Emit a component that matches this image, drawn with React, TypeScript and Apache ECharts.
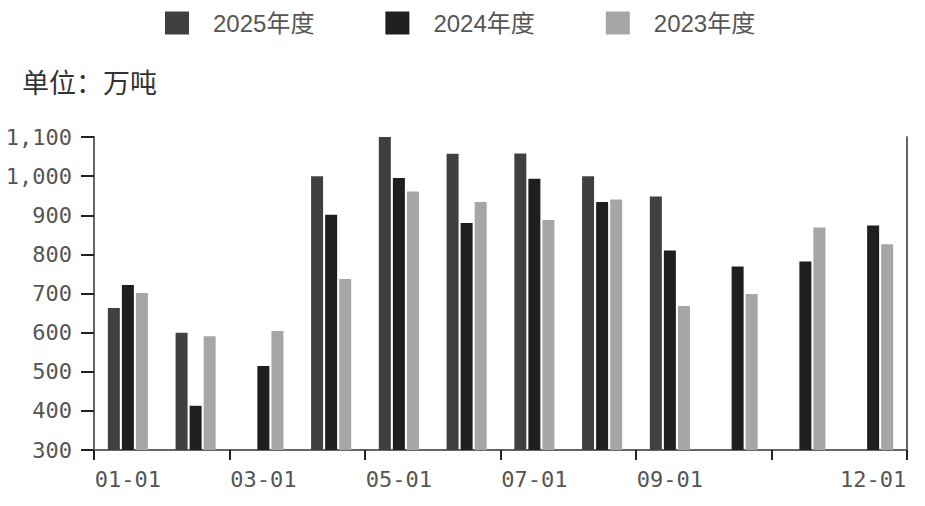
import { useEffect, useRef } from 'react';
import * as echarts from 'echarts';

// 月份类目
const months = [
  '01-01', '02-01', '03-01', '04-01', '05-01', '06-01',
  '07-01', '08-01', '09-01', '10-01', '11-01', '12-01',
];

// 各年度数据（万吨）
const data2025: (number | null)[] = [663, 600, null, 1000, 1100, 1057, 1058, 1000, 948, null, null, null];
const data2024: (number | null)[] = [722, 413, 515, 901, 995, 880, 993, 934, 810, 769, 782, 874];
const data2023: (number | null)[] = [701, 591, 604, 737, 961, 934, 888, 940, 668, 699, 869, 826];

const seriesNames = ['2025年度', '2024年度', '2023年度'];
const seriesColors = ['#404040', '#1f1f1f', '#a6a6a6'];

// 显示的 x 轴标签
const shownLabels = [0, 2, 4, 6, 8, 11];

const monoFont = '"DejaVu Sans Mono", monospace';

const App: React.FC = () => {
  const chartRef = useRef<HTMLDivElement>(null);

  useEffect(() => {
    if (!chartRef.current) return;
    const chart = echarts.init(chartRef.current, null, { renderer: 'svg' });

    const seriesData = [data2025, data2024, data2023];

    const option = {
      animation: false,
      title: {
        text: '单位：万吨',
        left: 17,
        top: 63,
        textStyle: {
          fontSize: 27,
          fontWeight: 'normal',
          color: '#333',
          fontFamily: '"Noto Sans CJK SC", sans-serif',
        },
      },
      legend: {
        left: 160,
        top: 6,
        itemWidth: 24,
        itemHeight: 23,
        itemGap: 71,
        icon: 'rect',
        textStyle: {
          fontSize: 24,
          color: '#555',
          fontFamily: '"Liberation Sans", "Noto Sans CJK SC", sans-serif',
          padding: [0, 0, 0, 19],
          width: 112,
        },
        data: seriesNames,
      },
      grid: {
        left: 94,
        right: 18,
        top: 137,
        bottom: 56,
        containLabel: false,
      },
      xAxis: {
        type: 'category',
        data: months,
        axisLine: { show: true, lineStyle: { color: '#666', width: 2 } },
        axisTick: {
          show: true,
          interval: 1,
          length: 10,
          lineStyle: { color: '#222', width: 2 },
        },
        axisLabel: {
          interval: (index: number) => shownLabels.includes(index),
          margin: 18,
          fontSize: 22,
          color: '#555',
          fontFamily: monoFont,
        },
        splitLine: { show: false },
      },
      yAxis: [
        {
          type: 'value',
          min: 300,
          max: 1100,
          interval: 100,
          axisLine: { show: true, lineStyle: { color: '#666', width: 2 } },
          axisTick: {
            show: true,
            inside: false,
            length: 13,
            lineStyle: { color: '#222', width: 2 },
          },
          axisLabel: {
            margin: 22,
            fontSize: 22,
            color: '#555',
            fontFamily: monoFont,
            formatter: (v: number) => v.toLocaleString('en-US'),
          },
          splitLine: { show: false },
        },
        {
          type: 'value',
          position: 'right',
          min: 300,
          max: 1100,
          interval: 100,
          axisLine: { show: true, lineStyle: { color: '#666', width: 2 } },
          axisTick: { show: false },
          axisLabel: { show: false },
          splitLine: { show: false },
        },
      ],
      series: seriesNames.map((name, i) => ({
        name,
        type: 'bar',
        data: seriesData[i],
        barWidth: 12,
        barGap: '17%',
        itemStyle: { color: seriesColors[i] },
      })),
    };

    chart.setOption(option);

    return () => {
      chart.dispose();
    };
  }, []);

  return <div ref={chartRef} style={{ width: 925, height: 506, margin: -8 }} />;
};

export default App;
